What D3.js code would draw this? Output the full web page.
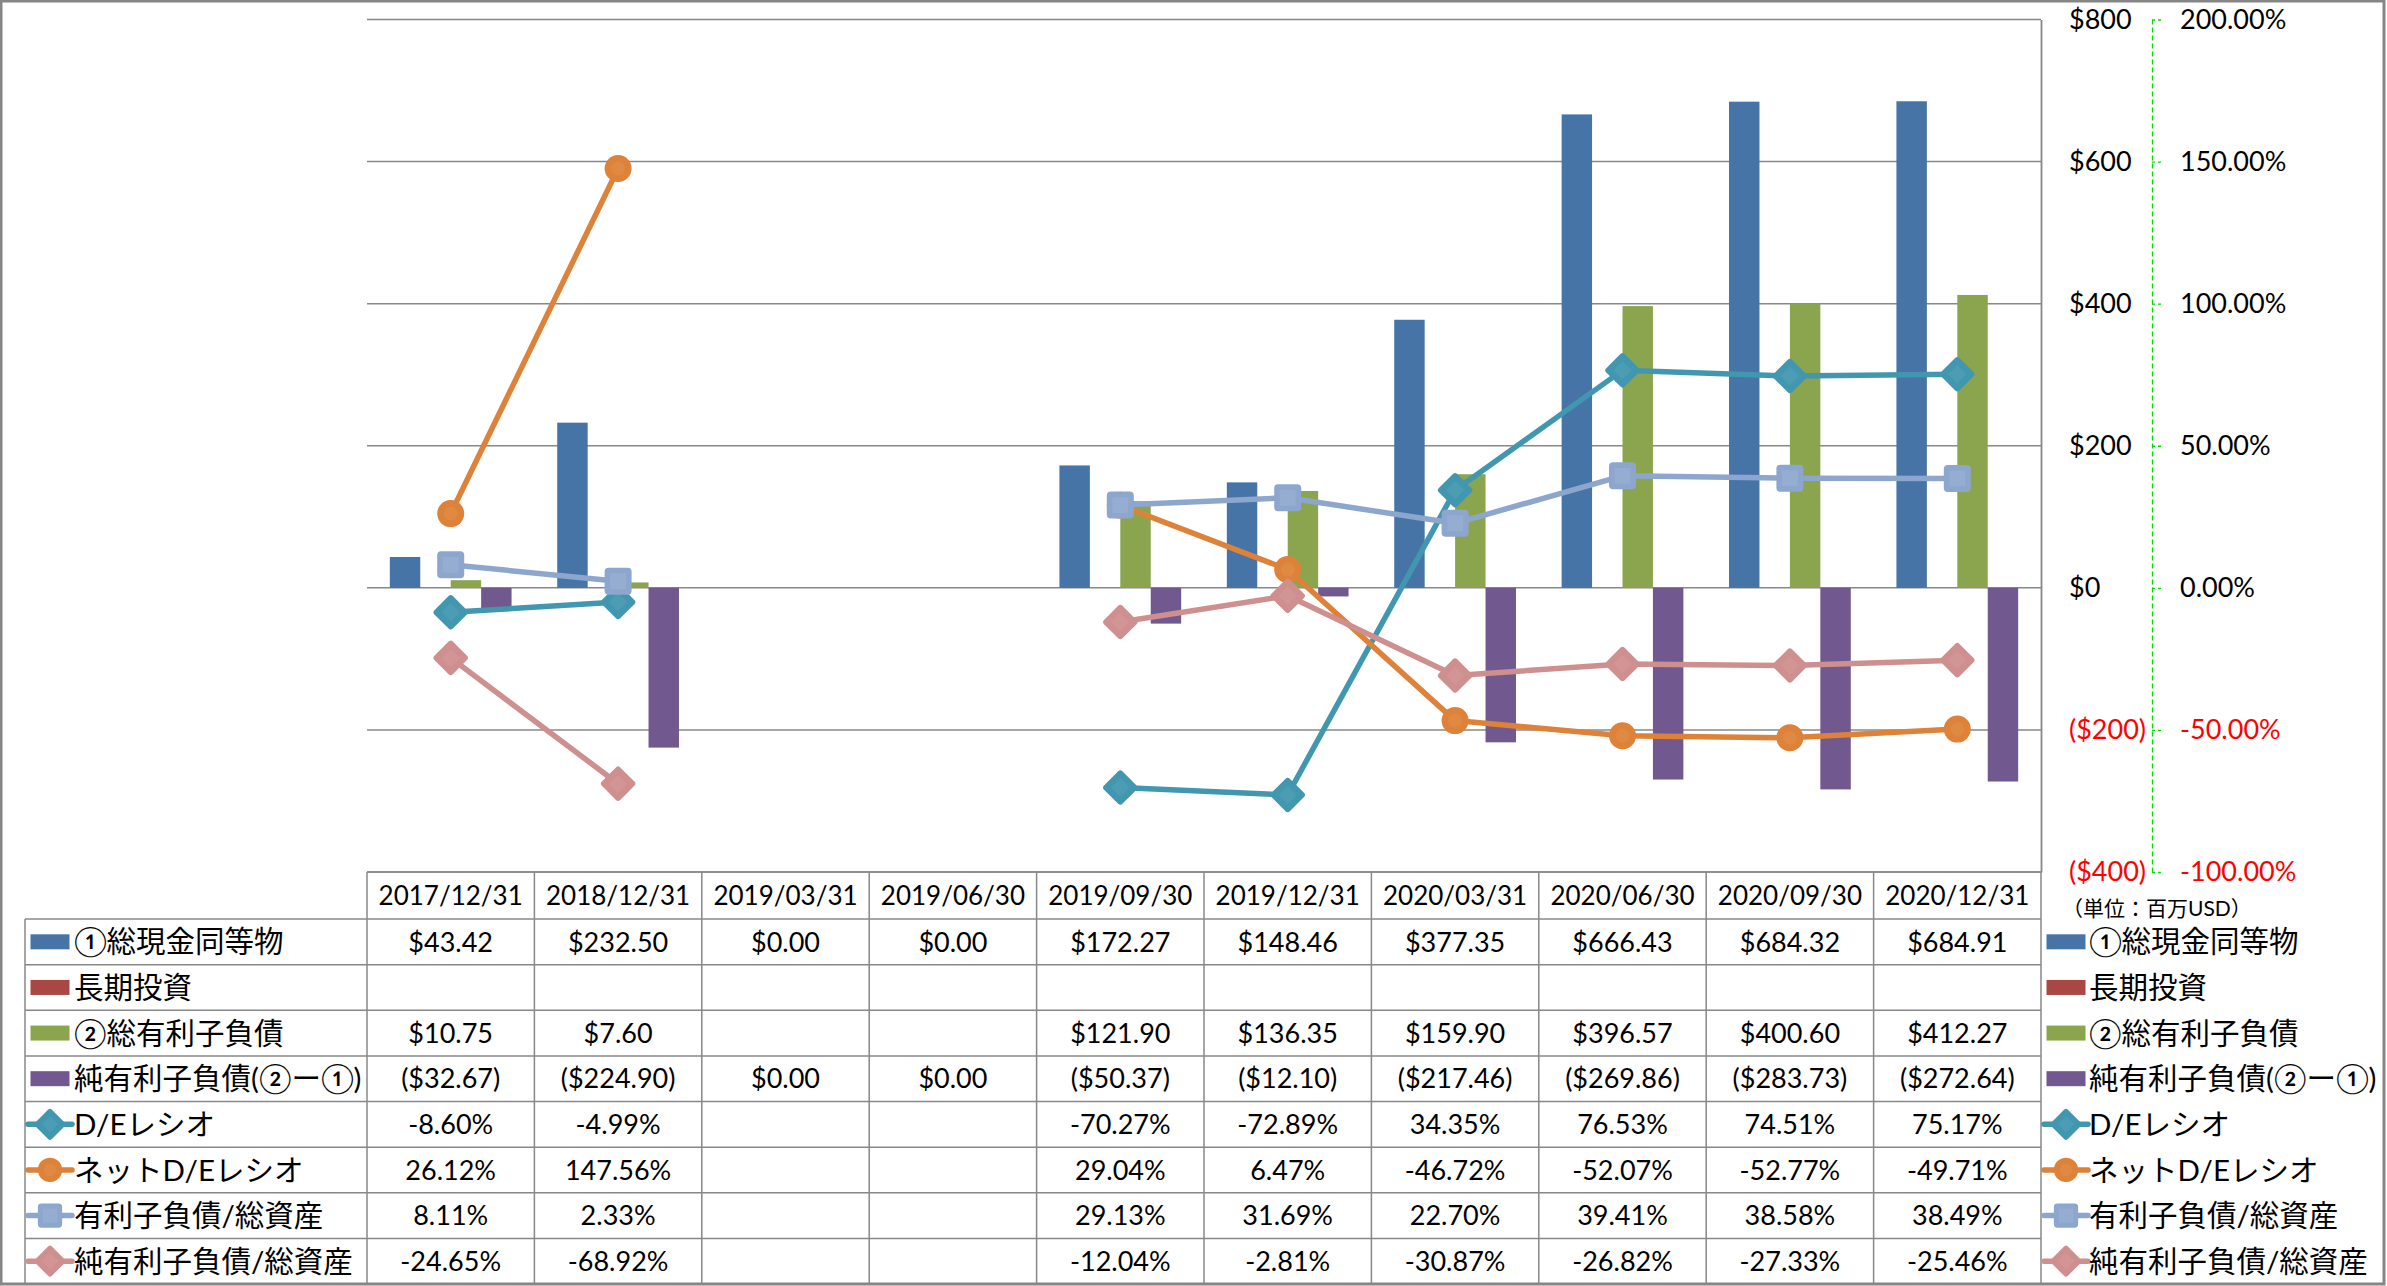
<!DOCTYPE html>
<html>
<head>
<meta charset="utf-8">
<script src="https://cdn.jsdelivr.net/npm/d3@7"></script>
<style>
  html, body { margin: 0; padding: 0; background: #fff; }
  svg { display: block; }
  text { font-family: 'Lato', 'Noto Sans CJK JP', sans-serif; }
</style>
</head>
<body>
<script>
// ---------------- DATA ----------------
const categories = ['2017/12/31','2018/12/31','2019/03/31','2019/06/30','2019/09/30','2019/12/31','2020/03/31','2020/06/30','2020/09/30','2020/12/31'];
const cash          = [43.42, 232.50, 0.00, 0.00, 172.27, 148.46, 377.35, 666.43, 684.32, 684.91];
const ltInvest      = [null, null, null, null, null, null, null, null, null, null];
const debt          = [10.75, 7.60, null, null, 121.90, 136.35, 159.90, 396.57, 400.60, 412.27];
const netDebt       = [-32.67, -224.90, 0.00, 0.00, -50.37, -12.10, -217.46, -269.86, -283.73, -272.64];
const deRatio       = [-8.60, -4.99, null, null, -70.27, -72.89, 34.35, 76.53, 74.51, 75.17];
const netDeRatio    = [26.12, 147.56, null, null, 29.04, 6.47, -46.72, -52.07, -52.77, -49.71];
const debtToAssets  = [8.11, 2.33, null, null, 29.13, 31.69, 22.70, 39.41, 38.58, 38.49];
const netDebtAssets = [-24.65, -68.92, null, null, -12.04, -2.81, -30.87, -26.82, -27.33, -25.46];
const leftTicks  = [-400, -200, 0, 200, 400, 600, 800];
const rightTicks = [-100, -50, 0, 50, 100, 150, 200];
const seriesLabels = ['①総現金同等物','長期投資','②総有利子負債','純有利子負債(②ー①)','D/Eレシオ','ネットD/Eレシオ','有利子負債/総資産','純有利子負債/総資産'];
const unitLabel = '（単位：百万USD）';

// ---------------- LAYOUT ----------------
const W = 2387, H = 1286;
const plotL = 367, plotR = 2041, plotT = 19.5, plotB = 872;
const headerB = 919, tableB = 1284, labelL = 25;
const rowH = (tableB - headerB) / 8;
const numSize = 27, hdrSize = 26, jpSize = 29.5;

const barSeries = [
  {name: seriesLabels[0], values: cash,     color: '#4674A6'},
  {name: seriesLabels[1], values: ltInvest, color: '#AA4644'},
  {name: seriesLabels[2], values: debt,     color: '#8AA54E'},
  {name: seriesLabels[3], values: netDebt,  color: '#71598F'}
];
const lineSeries = [
  {name: seriesLabels[4], values: deRatio,       color: '#4197AF', marker: 'diamond'},
  {name: seriesLabels[5], values: netDeRatio,    color: '#DD8238', marker: 'circle'},
  {name: seriesLabels[6], values: debtToAssets,  color: '#8DA6CE', marker: 'square'},
  {name: seriesLabels[7], values: netDebtAssets, color: '#CF8F8F', marker: 'diamond'}
];

const svg = d3.select('body').append('svg').attr('width', W).attr('height', H);
svg.append('rect').attr('width', W).attr('height', H).attr('fill', '#fff');

const x = d3.scaleBand().domain(categories).range([plotL, plotR]).padding(0);
const xInner = d3.scaleBand().domain(d3.range(4)).range([0, x.bandwidth()]).paddingInner(0).paddingOuter(0.75);
const yL = d3.scaleLinear().domain([-400, 800]).range([plotB, plotT]);
const yR = d3.scaleLinear().domain([-100, 200]).range([plotB, plotT]);

const grey = '#888888';
const hyphen = s => s.replace(/\u2212/g, '-');

// gridlines
svg.append('g').selectAll('line').data(leftTicks).join('line')
  .attr('x1', plotL).attr('x2', plotR)
  .attr('y1', d => yL(d)).attr('y2', d => yL(d))
  .attr('stroke', grey).attr('stroke-width', 1.5);

// primary axis (right side)
const axL = svg.append('g').attr('transform', `translate(${plotR},0)`)
  .call(d3.axisRight(yL).tickValues(leftTicks).tickSize(0).tickSizeOuter(0).tickPadding(28)
    .tickFormat(d => d < 0 ? `($${-d})` : `$${d}`));
axL.select('.domain').attr('stroke', grey).attr('stroke-width', 1.8);
axL.selectAll('text').attr('font-size', numSize).attr('font-family', 'Lato')
  .attr('fill', d => d < 0 ? '#FF0000' : '#000');

// secondary axis
const axR = svg.append('g').attr('transform', `translate(2152,0)`)
  .call(d3.axisRight(yR).tickValues(rightTicks).tickSize(9).tickSizeOuter(0).tickPadding(19)
    .tickFormat(d => hyphen(d3.format('.2f')(d)) + '%'));
axR.select('.domain').attr('stroke', '#00DD00').attr('stroke-width', 1.3).attr('stroke-dasharray', '5,3');
axR.selectAll('.tick line').attr('stroke', '#00DD00').attr('stroke-width', 1.3).attr('stroke-dasharray', '3,3');
axR.selectAll('text').attr('font-size', numSize).attr('font-family', 'Lato')
  .attr('fill', d => d < 0 ? '#FF0000' : '#000');

// bars
barSeries.forEach((s, si) => {
  svg.append('g').selectAll('rect')
    .data(categories.map((c, i) => ({c, v: s.values[i]})).filter(d => d.v != null))
    .join('rect')
    .attr('x', d => x(d.c) + xInner(si))
    .attr('width', xInner.bandwidth())
    .attr('y', d => Math.min(yL(0), yL(d.v)))
    .attr('height', d => Math.abs(yL(d.v) - yL(0)))
    .attr('fill', s.color);
});

// markers
function drawMarker(g, type, cx, cy, color, k) {
  k = k || 1;
  if (type === 'diamond') {
    const a = 26 * k;
    g.append('rect').attr('x', -a/2).attr('y', -a/2).attr('width', a).attr('height', a).attr('rx', 3*k)
      .attr('transform', `translate(${cx},${cy}) rotate(45)`).attr('fill', color);
    g.append('rect').attr('x', -a/4).attr('y', -a/4).attr('width', a/2).attr('height', a/2)
      .attr('transform', `translate(${cx},${cy}) rotate(45)`).attr('fill', '#fff').attr('opacity', 0.06);
  } else if (type === 'circle') {
    g.append('circle').attr('cx', cx).attr('cy', cy).attr('r', 13.5*k).attr('fill', color);
    g.append('circle').attr('cx', cx).attr('cy', cy).attr('r', 7*k).attr('fill', '#fff').attr('opacity', 0.06);
  } else {
    const a = 27 * k;
    g.append('rect').attr('x', cx - a/2).attr('y', cy - a/2).attr('width', a).attr('height', a).attr('rx', 4*k).attr('fill', color);
    g.append('rect').attr('x', cx - a/3.4).attr('y', cy - a/3.4).attr('width', a/1.7).attr('height', a/1.7).attr('fill', '#fff').attr('opacity', 0.08);
  }
}

// lines
const lineGen = d3.line().defined(d => d.v != null).x(d => x(d.c) + x.bandwidth()/2).y(d => yR(d.v));
lineSeries.forEach(s => {
  const pts = categories.map((c, i) => ({c, v: s.values[i]}));
  const g = svg.append('g');
  g.append('path').datum(pts).attr('d', lineGen).attr('fill', 'none')
    .attr('stroke', s.color).attr('stroke-width', 5.5).attr('stroke-linejoin', 'round');
  pts.filter(d => d.v != null).forEach(d => drawMarker(g, s.marker, x(d.c) + x.bandwidth()/2, yR(d.v), s.color, 1));
});

// ---------------- TABLE ----------------
const tg = svg.append('g');
tg.append('line').attr('x1', plotL).attr('x2', plotR).attr('y1', plotB).attr('y2', plotB).attr('stroke', grey).attr('stroke-width', 1.5);
d3.range(9).forEach(k => {
  const yy = headerB + k * rowH;
  tg.append('line').attr('x1', labelL).attr('x2', plotR).attr('y1', yy).attr('y2', yy).attr('stroke', grey).attr('stroke-width', 1.5);
});
d3.range(11).forEach(i => {
  const xx = plotL + i * x.step();
  tg.append('line').attr('x1', xx).attr('x2', xx).attr('y1', plotB).attr('y2', tableB).attr('stroke', grey).attr('stroke-width', 1.5);
});
tg.append('line').attr('x1', labelL).attr('x2', labelL).attr('y1', headerB).attr('y2', tableB).attr('stroke', grey).attr('stroke-width', 1.5);

tg.selectAll('text.hdr').data(categories).join('text').attr('class', 'hdr')
  .attr('x', d => x(d) + x.bandwidth()/2).attr('y', (plotB + headerB)/2).attr('dy', '0.36em')
  .attr('text-anchor', 'middle').attr('font-size', hdrSize).attr('font-family', 'Lato').text(d => d);

const fmtD = d3.format(',.2f');
const dollar = v => v == null ? '' : (v < 0 ? `($${fmtD(-v)})` : `$${fmtD(v)}`);
const pct = v => v == null ? '' : hyphen(d3.format('.2f')(v)) + '%';

const allRows = barSeries.map(s => ({...s, type: 'bar', fmt: dollar}))
  .concat(lineSeries.map(s => ({...s, type: 'line', fmt: pct})));

function legendKey(g, r, cx, cy) {
  if (r.type === 'bar') {
    g.append('rect').attr('x', cx - 19.5).attr('y', cy - 7.5).attr('width', 39).attr('height', 15).attr('fill', r.color);
  } else {
    g.append('line').attr('x1', cx - 22).attr('x2', cx + 22).attr('y1', cy).attr('y2', cy)
      .attr('stroke', r.color).attr('stroke-width', 5.5).attr('stroke-linecap', 'round');
    drawMarker(g, r.marker, cx, cy, r.color, 0.9);
  }
}

allRows.forEach((r, k) => {
  const cy = headerB + k * rowH + rowH/2;
  categories.forEach((c, i) => {
    tg.append('text').attr('x', x(c) + x.bandwidth()/2).attr('y', cy).attr('dy', '0.36em')
      .attr('text-anchor', 'middle').attr('font-size', numSize).attr('font-family', 'Lato').text(r.fmt(r.values[i]));
  });
  legendKey(tg, r, 50, cy);
  tg.append('text').attr('x', 74).attr('y', cy).attr('dy', '0.36em')
    .attr('font-size', jpSize).attr('font-family', "'Noto Sans CJK JP'").text(r.name);
  legendKey(tg, r, 2066, cy);
  tg.append('text').attr('x', 2089).attr('y', cy).attr('dy', '0.36em')
    .attr('font-size', jpSize).attr('font-family', "'Noto Sans CJK JP'").text(r.name);
});

svg.append('text').attr('x', 2062).attr('y', 908).attr('dy', '0.36em')
  .attr('font-size', 21).attr('font-family', "'Noto Sans CJK JP'").text(unitLabel);

svg.append('rect').attr('x', 1).attr('y', 1).attr('width', 2383).attr('height', 1283)
  .attr('fill', 'none').attr('stroke', '#868686').attr('stroke-width', 3);
</script>
</body>
</html>
